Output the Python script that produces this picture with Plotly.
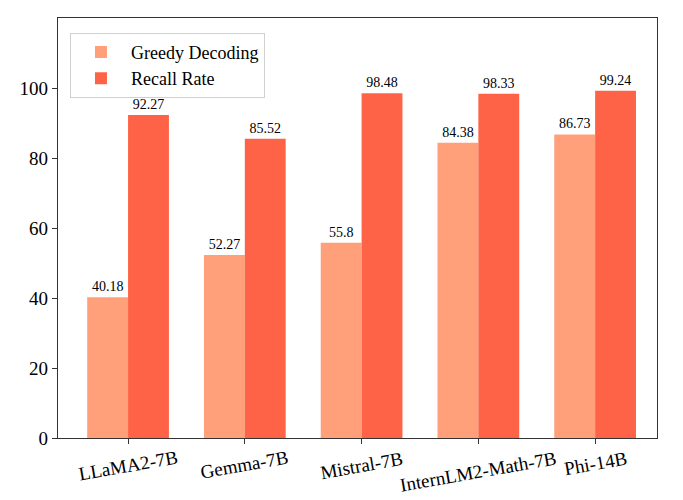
import math
import plotly.graph_objects as go

models = ["LLaMA2-7B", "Gemma-7B", "Mistral-7B", "InternLM2-Math-7B", "Phi-14B"]
greedy = [40.18, 52.27, 55.8, 84.38, 86.73]
recall = [92.27, 85.52, 98.48, 98.33, 99.24]
greedy_labels = ["40.18", "52.27", "55.8", "84.38", "86.73"]
recall_labels = ["92.27", "85.52", "98.48", "98.33", "99.24"]

FONT = "Liberation Serif"
ANGLE = 10

fig = go.Figure()
fig.add_trace(go.Bar(
    x=models, y=greedy, name="Greedy Decoding",
    marker=dict(color="#FFA07A", line=dict(width=0)),
    text=greedy_labels, textposition="outside", cliponaxis=False,
    textfont=dict(family=FONT, size=14, color="black"),
))
fig.add_trace(go.Bar(
    x=models, y=recall, name="Recall Rate",
    marker=dict(color="#FF6347", line=dict(width=0)),
    text=recall_labels, textposition="outside", cliponaxis=False,
    textfont=dict(family=FONT, size=14, color="black"),
))

# rotated category labels: top of rotated box aligned just below the axis
for m in models:
    w = len(m) * 9.3
    span = w * math.sin(math.radians(ANGLE)) + 20 * math.cos(math.radians(ANGLE))
    fig.add_annotation(
        x=m, xref="x", y=0, yref="paper", yanchor="middle", xanchor="center",
        yshift=-(10 + span / 2), text=m, textangle=-ANGLE, showarrow=False,
        font=dict(family=FONT, size=19, color="black"),
    )

fig.update_layout(
    width=667, height=492,
    margin=dict(l=50, r=18, t=10, b=62, autoexpand=False),
    barmode="group", bargap=0.3, bargroupgap=0,
    plot_bgcolor="white", paper_bgcolor="white",
    font=dict(family=FONT, color="black"),
    showlegend=True,
    legend=dict(
        x=0.02, y=0.965, xanchor="left", yanchor="top",
        bgcolor="rgba(255,255,255,0.8)", bordercolor="#d0d0d0", borderwidth=1,
        font=dict(family=FONT, size=18, color="black"),
        itemwidth=50, tracegroupgap=2,
    ),
    xaxis=dict(
        range=[-0.6, 4.53], showline=True, linecolor="#333333", linewidth=1.2,
        mirror=True, ticks="outside", ticklen=5, tickcolor="#333333",
        showticklabels=False, showgrid=False, automargin=False,
    ),
    yaxis=dict(
        range=[0, 120], tickvals=[0, 20, 40, 60, 80, 100],
        showline=True, linecolor="#333333", linewidth=1.2, mirror=True,
        ticks="outside", ticklen=5, tickcolor="#333333",
        tickfont=dict(family=FONT, size=19, color="black"),
        showgrid=False, zeroline=False, automargin=False,
    ),
)

fig.write_html("out.html")
